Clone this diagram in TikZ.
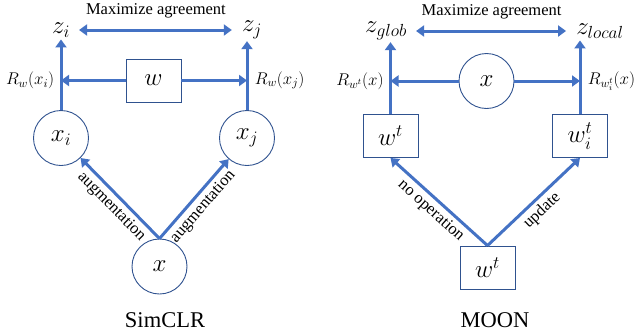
\RequirePackage{fix-cm}
\documentclass[tikz,border=0pt]{standalone}
\usepackage{fontspec}
\setmainfont{Liberation Serif}
\usetikzlibrary{
  positioning,
  calc,
  arrows.meta
}
\definecolor{lineblue}{HTML}{4472C4}
\definecolor{edgeblue}{HTML}{2F528F}

\begin{document}
\begin{tikzpicture}[x=1pt, y=-1pt,
    flow/.style = {draw=lineblue, line width=3pt, -{Triangle[length=8pt,width=11pt]}},
    both/.style = {draw=lineblue, line width=3pt, {Triangle[length=8pt,width=11pt]}-{Triangle[length=8pt,width=11pt]}, shorten <=7pt, shorten >=8pt},
    ball/.style = {circle, draw=edgeblue, line width=0.9pt, minimum size=55pt, inner sep=0pt, font=\fontsize{25}{28}\selectfont},
    block/.style = {rectangle, draw=edgeblue, line width=0.9pt, minimum width=55pt, minimum height=43pt, inner sep=0pt, font=\fontsize{25}{28}\selectfont},
    sym/.style = {font=\fontsize{25}{28}\selectfont, inner sep=2pt},
    lbl/.style = {font=\fontsize{17}{19}\selectfont},
    txt/.style = {font=\fontsize{16.5}{18}\selectfont},
    title/.style = {font=\fontsize{22.5}{26}\selectfont}]

  \useasboundingbox (0,0) rectangle (638,333);

  % SimCLR
  \node[sym] (zi) at (61,30) {$z_i$};
  \node[sym] (zj) at (252,30) {$z_j$};
  \node[block] (w) at (153.5,80.5) {$w$};
  \node[ball] (xi) at (61,138) {$x_i$};
  \node[ball] (xj) at (247,138) {$x_j$};
  \node[ball] (x) at (159.5,266.5) {$x$};
  \node[title] (simclr) at (165,320) {SimCLR};

  \draw[both] (zi) -- node[txt, above=7pt] {Maximize agreement} (zj);
  \draw[flow] (xi) -- (xi |- zi.south);
  \draw[flow] (xj) -- (xj |- zj.south);
  \draw[flow] (w) -- (w -| xi) node[lbl, left=2pt] {$R_w(x_i)$};
  \draw[flow] (w) -- (w -| xj) node[lbl, right=3pt] {$R_w(x_j)$};
  \draw[flow] (x.north) -- node[txt, sloped, below] {augmentation} (xi);
  \draw[flow] (x.north) -- node[txt, sloped, below] {augmentation} (xj);

  % MOON
  \node[sym] (zg) at (386,31) {$z_{glob}$};
  \node[sym] (zl) at (600,31) {$z_{local}$};
  \node[ball] (xm) at (486.5,81) {$x$};
  \node[block] (wg) at (390.5,136) {$w^t$};
  \node[block] (wl) at (580,136) {$w_i^t$};
  \node[block] (wb) at (487.5,267.5) {$w^t$};
  \node[title] (moon) at (495,320) {MOON};

  \draw[both] (zg) -- node[txt, above=7pt] {Maximize agreement} (zl);
  \draw[flow] (wg) -- (wg |- zg.south);
  \draw[flow] (wl) -- (wl |- zl.south);
  \draw[flow] (xm) -- (xm -| wg) node[lbl, left=2pt] {$R_{w^t}(x)$};
  \draw[flow] (xm) -- (xm -| wl) node[lbl, right=3pt] {$R_{w_i^t}(x)$};
  \draw[flow] (wb.north) -- node[txt, sloped, below] {no operation} (wg.south);
  \draw[flow] (wb.north) -- node[txt, sloped, below] {update} (wl.south);
\end{tikzpicture}
\end{document}
